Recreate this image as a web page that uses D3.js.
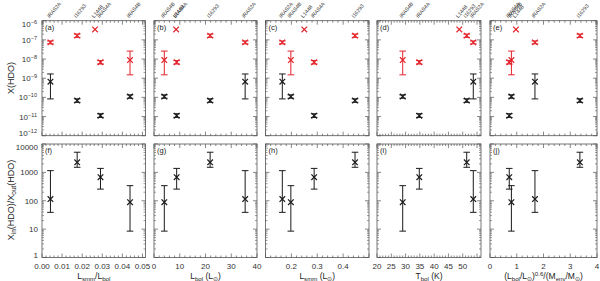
<!DOCTYPE html>
<html><head><meta charset="utf-8">
<script src="https://cdn.jsdelivr.net/npm/d3@7"></script>
<style>body{margin:0;background:#fff}svg text{font-family:"Liberation Sans",Arial,sans-serif}</style>
</head><body><svg id="c" width="600" height="281"></svg>
<script>
// ---------- data ----------
const sources   = ["IRAS2A", "I16293", "L1448", "IRAS4A", "IRAS4B"];
// inner (hot corino) HDO abundance, with lower / upper bounds (null = no bar)
const xinVal = [7.4e-8, 1.66e-7, 3.5e-7, 6.8e-9, 8.9e-9];
const xinLo  = [6.2e-8, 1.35e-7, null,   5.5e-9, 1.5e-9];
const xinHi  = [8.8e-8, 2.0e-7,  null,   8.3e-9, 2.6e-8];
// outer HDO abundance
const xoutVal = [6.6e-10, 6.8e-11, null, 1.1e-11, 1.1e-10];
const xoutLo  = [8.3e-11, 5.5e-11, null, 9.0e-12, 9.0e-11];
const xoutHi  = [1.66e-9, 8.4e-11, null, 1.4e-11, 1.35e-10];
// inner / outer ratio
const ratioVal = [115, 2265, null, 676, 89];
const ratioLo  = [39, 1510, null, 257, 8.5];
const ratioHi  = [1150, 5130, null, 1380, 340];
// source properties (x quantities)
const lsmmOverLbol = [0.0042, 0.0175, 0.0264, 0.0291, 0.0438];
const lbol         = [35.4, 21.8, 8.6, 8.8, 4.0];
const lsmm         = [0.165, 0.446, 0.25, 0.288, 0.198];
const tbol         = [53.7, 51.4, 48.8, 34.8, 29.0];
const evolIndex    = [1.68, 3.36, 0.97, 0.72, 0.80];
// axes
const topTickExp    = [-12, -11, -10, -9, -8, -7, -6];
const bottomTicks   = [1, 10, 100, 1000, 10000];
const xTicksA = [0, 0.01, 0.02, 0.03, 0.04, 0.05];
const xTicksB = [0, 10, 20, 30, 40];
const xTicksC = [0.2, 0.3, 0.4];
const xTicksD = [20, 25, 30, 35, 40, 45, 50];
const xTicksE = [0, 1, 2, 3, 4];
const topLetters = ["(a)", "(b)", "(c)", "(d)", "(e)"];
const botLetters = ["(f)", "(g)", "(h)", "(i)", "(j)"];

// ---------- layout ----------
const svg = d3.select("#c");
const RED = "#e2232a", BLK = "#1a1a1a", AX = "#555";
const topY = [20.7, 135.7], botY = [144, 257.5];
const panels = [
  {px: [42, 145.5], dom: [0, 0.0515], ticks: xTicksA, minor: 0.002, fmt: d3.format(".2f"), xv: lsmmOverLbol,
   title: [["L", ""], ["smm", "sub"], ["/L", ""], ["bol", "sub"]]},
  {px: [154, 257], dom: [0, 40], ticks: xTicksB, minor: 2, fmt: d3.format("d"), xv: lbol,
   title: [["L", ""], ["bol", "sub"], [" (L", ""], ["⊙", "sub"], [")", ""]]},
  {px: [265.5, 369], dom: [0.1, 0.5], ticks: xTicksC, minor: 0.02, fmt: d3.format(".1f"), xv: lsmm,
   title: [["L", ""], ["smm", "sub"], [" (L", ""], ["⊙", "sub"], [")", ""]]},
  {px: [377, 481], dom: [20, 56.4], ticks: xTicksD, minor: 1, fmt: d3.format("d"), xv: tbol,
   title: [["T", ""], ["bol", "sub"], [" (K)", ""]]},
  {px: [490, 597], dom: [0, 4], ticks: xTicksE, minor: 0.2, fmt: d3.format("d"), xv: evolIndex,
   title: [["(L", ""], ["bol", "sub"], ["/L", ""], ["⊙", "sub"], [")", ""], ["0.6", "sup"], ["/(M", ""], ["env", "sub"], ["/M", ""], ["⊙", "sub"], [")", ""]]}
];

function rich(sel, parts, fs) {
  let prev = "";
  parts.forEach(([t, k]) => {
    const ts = sel.append("tspan").text(t);
    let dy = 0;
    if (prev === "sub") dy -= fs * 0.25;
    if (prev === "sup") dy += fs * 0.35;
    if (k === "sub") { dy += fs * 0.25; ts.attr("font-size", fs * 0.72); }
    if (k === "sup") { dy -= fs * 0.35; ts.attr("font-size", fs * 0.72); }
    if (dy) ts.attr("dy", dy);
    prev = k;
  });
}

function xMark(g, x, y, col) {
  const s = 2.8;
  g.append("path").attr("d", `M${x - s},${y - s}L${x + s},${y + s}M${x - s},${y + s}L${x + s},${y - s}`)
    .attr("stroke", col).attr("stroke-width", 1.2).attr("fill", "none");
}
function errBar(g, x, y1, y2, col) {
  const c = 3.3;
  g.append("path").attr("d", `M${x},${y1}L${x},${y2}M${x - c},${y1}L${x + c},${y1}M${x - c},${y2}L${x + c},${y2}`)
    .attr("stroke", col).attr("stroke-width", 1).attr("fill", "none");
}

const yTop = d3.scaleLog().domain([1e-12, 1e-6]).range([topY[1], topY[0]]);
const yBot = d3.scaleLog().domain([1, 1e4]).range([botY[1], botY[0]]);

panels.forEach((p, i) => {
  const x = d3.scaleLinear().domain(p.dom).range(p.px);
  [[topY, yTop, true], [botY, yBot, false]].forEach(([yr, y, isTop]) => {
    const g = svg.append("g");
    g.append("rect").attr("x", p.px[0]).attr("y", yr[0]).attr("width", p.px[1] - p.px[0]).attr("height", yr[1] - yr[0])
      .attr("fill", "none").attr("stroke", AX).attr("stroke-width", 0.8);
    const majX = d3.range(p.dom[0], p.dom[1] + 1e-9, p.minor * 5);
    const minX = d3.range(Math.ceil(p.dom[0] / p.minor - 1e-9) * p.minor, p.dom[1] + 1e-9, p.minor);
    minX.forEach(v => {
      const isMaj = majX.some(m => Math.abs(m - v) < 1e-9);
      const L = isMaj ? 4 : 2;
      const xx = x(v);
      g.append("path").attr("d", `M${xx},${yr[1]}v${-L}M${xx},${yr[0]}v${L}`).attr("stroke", AX).attr("stroke-width", 0.7);
    });
    const yMaj = isTop ? topTickExp.map(e => Math.pow(10, e)) : bottomTicks;
    const yMin = [];
    yMaj.slice(0, -1).forEach(d => { for (let k = 2; k <= 9; k++) yMin.push(d * k); });
    yMaj.forEach(v => {
      const yy = y(v);
      g.append("path").attr("d", `M${p.px[0]},${yy}h4M${p.px[1]},${yy}h-4`).attr("stroke", AX).attr("stroke-width", 0.7);
    });
    yMin.forEach(v => {
      const yy = y(v);
      g.append("path").attr("d", `M${p.px[0]},${yy}h2M${p.px[1]},${yy}h-2`).attr("stroke", AX).attr("stroke-width", 0.6);
    });
    if (i === 0) {
      if (isTop) {
        topTickExp.forEach((e, k) => {
          let yy = y(Math.pow(10, e)) + 3;
          if (k === 0) yy -= 3; if (k === topTickExp.length - 1) yy += 3;
          const t = svg.append("text").attr("x", 37).attr("y", yy).attr("text-anchor", "end")
            .attr("font-size", 8).attr("fill", "#333");
          t.append("tspan").text("10");
          t.append("tspan").attr("dy", -3).attr("font-size", 5.5).text("−" + (-e));
        });
      } else {
        bottomTicks.forEach((v, k) => {
          let yy = y(v) + 3;
          if (k === 0) yy -= 3; if (k === bottomTicks.length - 1) yy += 3;
          svg.append("text").attr("x", 38).attr("y", yy).attr("text-anchor", "end")
            .attr("font-size", 8).attr("fill", "#333").text(v);
        });
      }
    }
    svg.append("text").attr("x", p.px[0] + 3).attr("y", yr[0] + 9).attr("font-size", 7.5).attr("fill", "#222")
      .text(isTop ? topLetters[i] : botLetters[i]);
    const xs = p.xv;
    if (isTop) {
      xs.forEach((xv, j) => {
        if (xoutVal[j] !== null) {
          errBar(g, x(xv), y(xoutLo[j]), y(xoutHi[j]), BLK);
          xMark(g, x(xv), y(xoutVal[j]), BLK);
        }
        if (xinLo[j] !== null) errBar(g, x(xv), y(xinLo[j]), y(xinHi[j]), RED);
        xMark(g, x(xv), y(xinVal[j]), RED);
      });
    } else {
      xs.forEach((xv, j) => {
        if (ratioVal[j] === null) return;
        errBar(g, x(xv), y(ratioLo[j]), y(ratioHi[j]), BLK);
        xMark(g, x(xv), y(ratioVal[j]), BLK);
      });
    }
  });
  p.ticks.forEach(v => {
    svg.append("text").attr("x", x(v)).attr("y", 269).attr("text-anchor", "middle")
      .attr("font-size", 8).attr("fill", "#333").text(p.fmt(v));
  });
  const t = svg.append("text").attr("x", (p.px[0] + p.px[1]) / 2).attr("y", 278.5)
    .attr("text-anchor", "middle").attr("font-size", 8.5).attr("fill", "#222");
  rich(t, p.title, 8.5);
  // source labels above top panels
  p.xv.forEach((xv, j) => {
    svg.append("text").attr("transform", `translate(${x(xv) - 1},${topY[0] - 2.5}) rotate(-50)`)
      .attr("font-size", 5.2).attr("fill", "#333").text(sources[j]);
  });
});

const yt1 = svg.append("text").attr("transform", "translate(14,78) rotate(-90)").attr("text-anchor", "middle")
  .attr("font-size", 9).attr("fill", "#222");
rich(yt1, [["X(HDO)", ""]], 9);
const yt2 = svg.append("text").attr("transform", "translate(14,200) rotate(-90)").attr("text-anchor", "middle")
  .attr("font-size", 9).attr("fill", "#222");
rich(yt2, [["X", ""], ["in", "sub"], ["(HDO)/X", ""], ["out", "sub"], ["(HDO)", ""]], 9);
</script></body></html>
